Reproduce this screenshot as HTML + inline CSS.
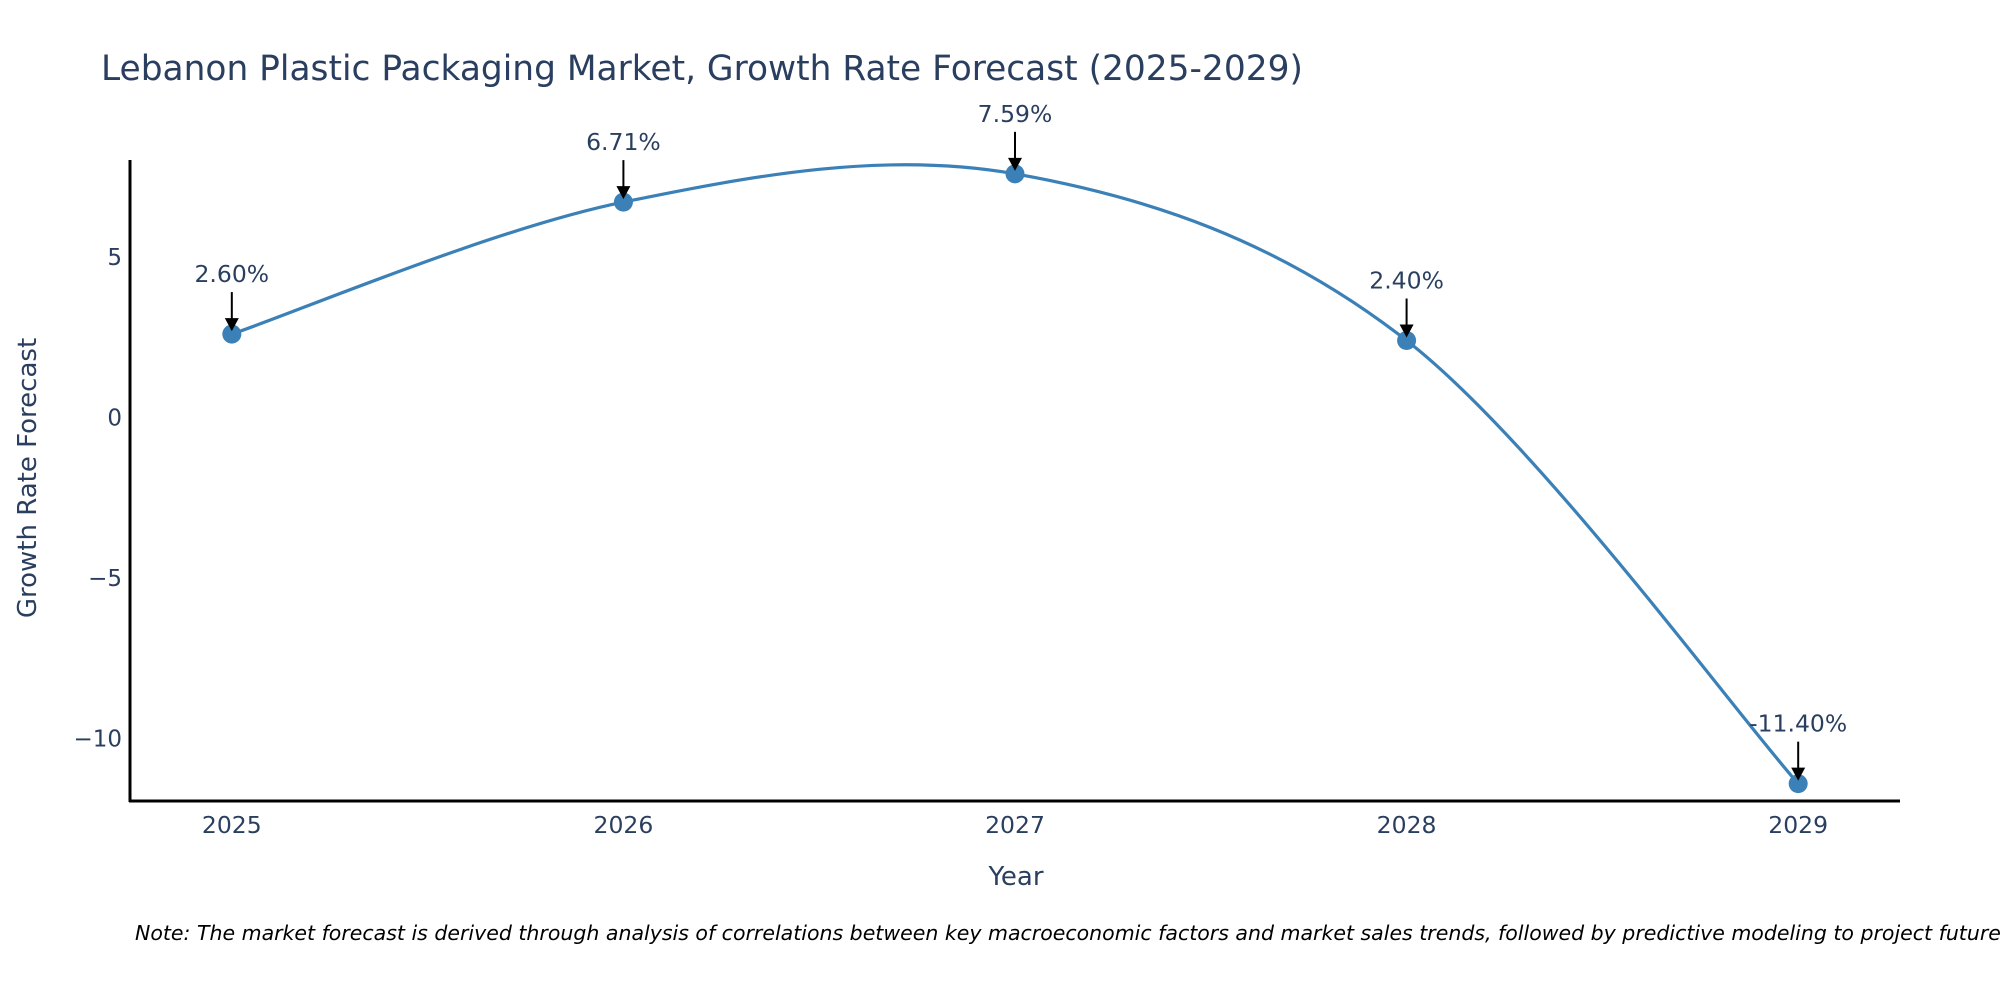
<!DOCTYPE html>
<html><head><meta charset="utf-8"><style>
html,body{margin:0;padding:0;background:#fff;}
svg{display:block;font-family:"DejaVu Sans","Liberation Sans",sans-serif;}
</style></head><body>
<svg id="chart" width="2000" height="1000" viewBox="0 0 2000 1000" xmlns="http://www.w3.org/2000/svg">
<rect width="2000" height="1000" fill="#fff"/>
<text x="101" y="80" font-size="34.4" fill="#2a3f5f">Lebanon Plastic Packaging Market, Growth Rate Forecast (2025-2029)</text>
<g id="yticks"></g><g id="xticks"></g>
<path id="curve" fill="none" stroke="#3b80b6" stroke-width="3.2"/>
<g id="points"></g><g id="annots"></g>
<line x1="130" y1="160" x2="130" y2="802" stroke="#000" stroke-width="3"/>
<line x1="129" y1="801" x2="1900" y2="801" stroke="#000" stroke-width="3"/>
<text x="1016" y="885" font-size="26" fill="#2a3f5f" text-anchor="middle">Year</text>
<text transform="translate(36,478) rotate(-90)" font-size="26" fill="#2a3f5f" text-anchor="middle">Growth Rate Forecast</text>
<text x="135" y="940" font-size="20.5" font-style="italic" fill="#000">Note: The market forecast is derived through analysis of correlations between key macroeconomic factors and market sales trends, followed by predictive modeling to project future sales.</text>
</svg>
<script>
const years = [2025, 2026, 2027, 2028, 2029];
const growth = [2.60, 6.71, 7.59, 2.40, -11.40];
const labels = ["2.60%", "6.71%", "7.59%", "2.40%", "-11.40%"];
const yTicks = [5, 0, -5, -10];
const yTickLabels = ["5", "0", "\u22125", "\u221210"];

const NS = "http://www.w3.org/2000/svg";
const xMin = 2024.74, xMax = 2029.26, px0 = 130, px1 = 1900;
const yMin = -11.94, yMax = 7.99, py0 = 801, py1 = 161;
const X = v => px0 + (v - xMin) / (xMax - xMin) * (px1 - px0);
const Y = v => py0 - (v - yMin) / (yMax - yMin) * (py0 - py1);
function mk(tag, attrs, parent, text) {
  const e = document.createElementNS(NS, tag);
  for (const k in attrs) e.setAttribute(k, attrs[k]);
  if (text !== undefined) e.textContent = text;
  parent.appendChild(e);
  return e;
}
const yt = document.getElementById('yticks');
yTicks.forEach((t, i) => {
  const e = mk('text', {x: 122, y: Y(t) + 8, 'font-size': 23, fill: '#2a3f5f', 'text-anchor': 'end'}, yt, yTickLabels[i]);
  
  
});
const xt = document.getElementById('xticks');
years.forEach(yr => {
  const e = mk('text', {x: X(yr), y: 833, 'font-size': 23.5, fill: '#2a3f5f', 'text-anchor': 'middle'}, xt, String(yr));
  
  
});
const pts = years.map((yr, i) => [X(yr), Y(growth[i])]);
let d = `M${pts[0][0]},${pts[0][1]}`;
const s = 1/6;
for (let i = 0; i < pts.length - 1; i++) {
  const p0 = pts[Math.max(i - 1, 0)], p1 = pts[i], p2 = pts[i + 1], p3 = pts[Math.min(i + 2, pts.length - 1)];
  const c1 = [p1[0] + (p2[0] - p0[0]) * s, p1[1] + (p2[1] - p0[1]) * s];
  const c2 = [p2[0] - (p3[0] - p1[0]) * s, p2[1] - (p3[1] - p1[1]) * s];
  d += ` C${c1[0]},${c1[1]} ${c2[0]},${c2[1]} ${p2[0]},${p2[1]}`;
}
document.getElementById('curve').setAttribute('d', d);
const pg = document.getElementById('points'), ag = document.getElementById('annots');
pts.forEach((p, i) => {
  const c = mk('circle', {cx: p[0], cy: p[1], r: 9.5, fill: '#3b80b6'}, pg);
  
  
  const l = mk('line', {x1: p[0], y1: p[1] - 42, x2: p[0], y2: p[1] - 14, stroke: '#000', 'stroke-width': 2}, ag);
  
  
  const h = mk('path', {d: `M${p[0]-7},${p[1]-16} L${p[0]+7},${p[1]-16} L${p[0]},${p[1]-3} Z`, fill: '#000'}, ag);
  
  
  const t = mk('text', {x: p[0], y: p[1] - 52, 'font-size': 23.5, fill: '#2a3f5f', 'text-anchor': 'middle'}, ag, labels[i]);
  
  
});
</script>
</body></html>
